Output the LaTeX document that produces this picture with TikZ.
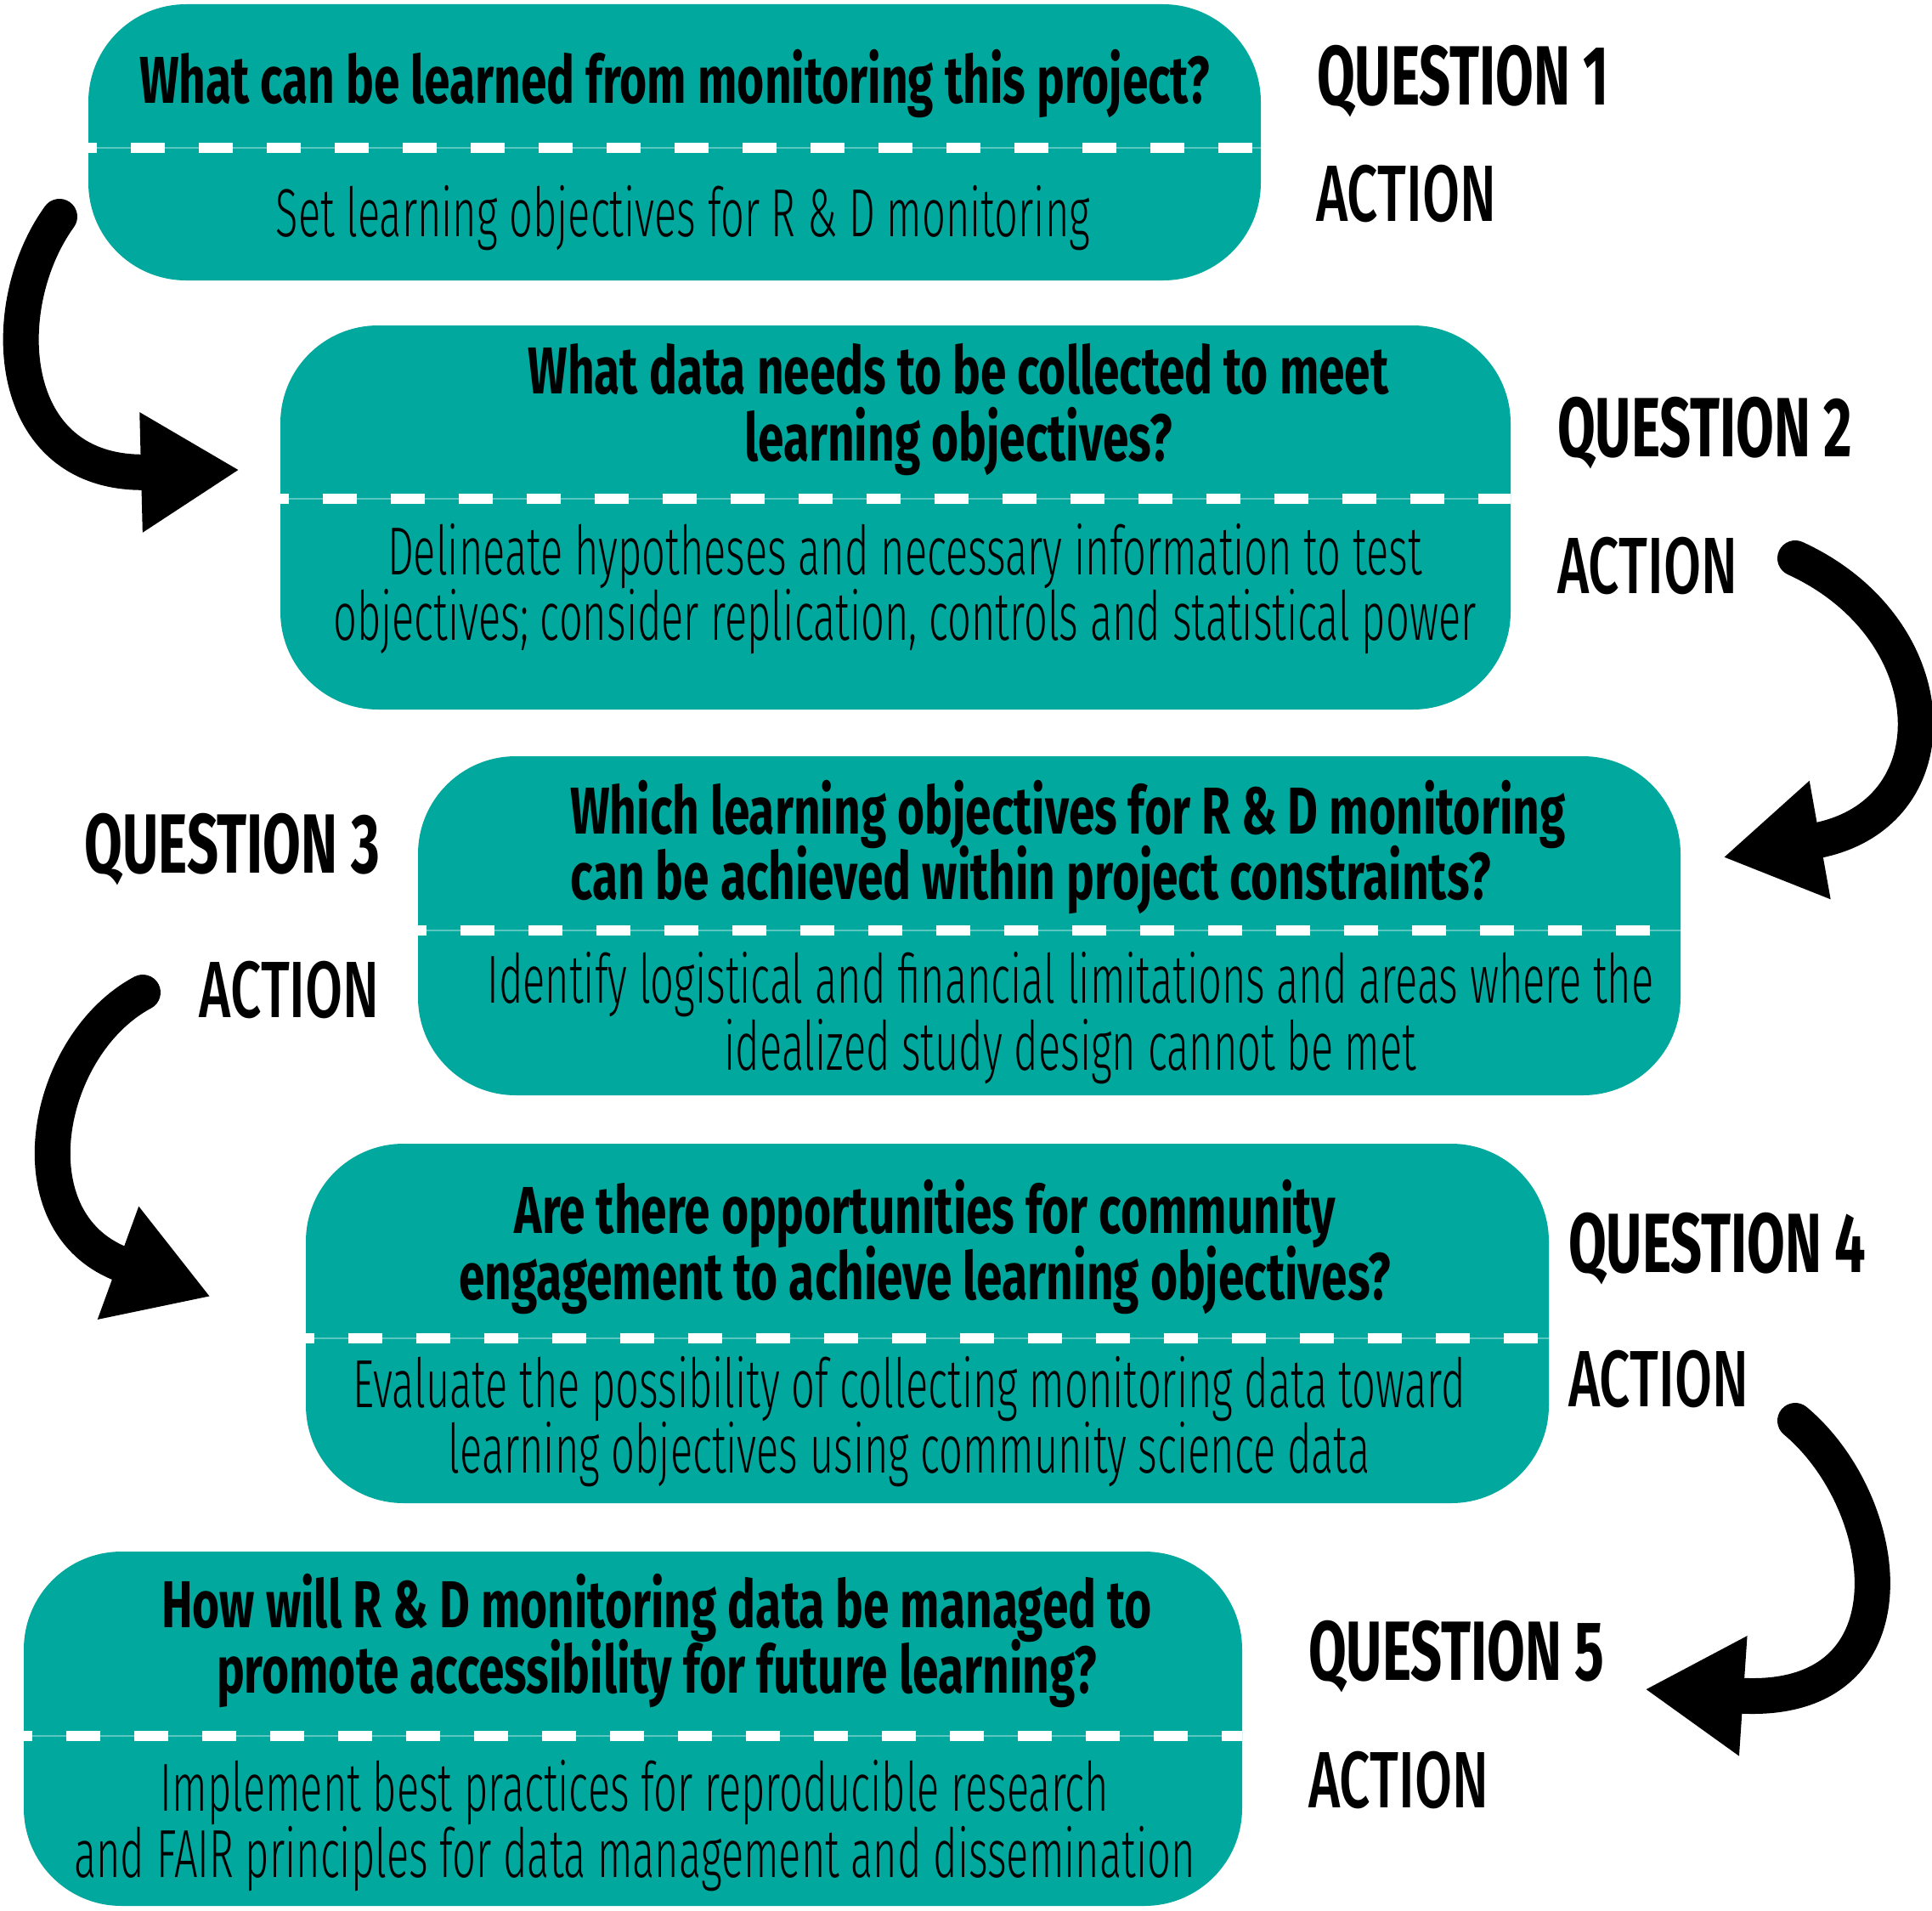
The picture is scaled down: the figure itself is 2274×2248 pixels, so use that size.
\documentclass[tikz,border=0pt]{standalone}
\usepackage{fontspec}
\usetikzlibrary{arrows.meta}
% condensed faces for the boxes and the side labels
\newfontfamily\qfont{Fira Sans}[FakeStretch=0.705]
\newfontfamily\afont{Fira Sans Light}[FakeStretch=0.61]
\newfontfamily\lqfont{Fira Sans}[FakeStretch=0.655]
\newfontfamily\lafont{Fira Sans Medium}[FakeStretch=0.68]
\definecolor{tealbox}{RGB}{0,168,157}
\begin{document}
\begin{tikzpicture}[x=1pt,y=-1pt,
  box/.style={fill=tealbox, draw=none, rounded corners=115pt, inner sep=0pt},
  qline/.style={anchor=base, inner sep=0pt, font=\qfont\bfseries\fontsize{78}{80}\selectfont},
  aline/.style={anchor=base, inner sep=0pt, font=\afont\fontsize{80}{82}\selectfont},
  qlabel/.style={anchor=base west, inner sep=0pt, font=\lqfont\bfseries\fontsize{99}{100}\selectfont},
  alabel/.style={anchor=base west, inner sep=0pt, font=\lafont\fontsize{94}{96}\selectfont},
  dashline/.style={draw=white, line width=12pt, dash pattern=on 40pt off 40pt, dash phase=30pt},
  hairline/.style={draw=white, draw opacity=0.35, line width=1.5pt},
  bigarrow/.style={line width=42pt, line cap=round, -{Triangle[length=116pt,width=133pt]}}
]
\useasboundingbox (0,0) rectangle (2274,2248);
\fill[white] (0,0) rectangle (2274,2248);

% boxes
\node[box, minimum width=1380pt, minimum height=325pt] (b1) at (794,167.5) {};
\node[box, minimum width=1448pt, minimum height=452pt] (b2) at (1054,609) {};
\node[box, minimum width=1486pt, minimum height=399pt] (b3) at (1235,1089.5) {};
\node[box, minimum width=1463pt, minimum height=423pt] (b4) at (1091.5,1557.5) {};
\node[box, minimum width=1434pt, minimum height=417pt] (b5) at (745,2034.5) {};

% dashed separators
\coordinate (d1) at (0,174);
\coordinate (d2) at (0,587);
\coordinate (d3) at (0,1095);
\coordinate (d4) at (0,1575);
\coordinate (d5) at (0,2043);
\foreach \b/\d in {b1/d1,b2/d2,b3/d3,b4/d4,b5/d5}{
  \draw[hairline] (\b.west |- \d) -- (\b.east |- \d);
  \draw[dashline] (\b.west |- \d) -- (\b.east |- \d);
}

% box 1
\node[qline] (q1a) at (794,121) {What can be learned from monitoring this project?};
\node[aline] (a1a) at (804,278) {Set learning objectives for R \& D monitoring};
% box 2
\node[qline] (q2a) at (1128,463) {What data needs to be collected to meet};
\node[qline] (q2b) at (1128,542) {learning objectives?};
\node[aline] (a2a) at (1065,676) {Delineate hypotheses and necessary information to test};
\node[aline] (a2b) at (1065,753) {objectives; consider replication, controls and statistical power};
% box 3
\node[qline, anchor=base west] (q3a) at (671,981) {Which learning objectives for R \& D monitoring};
\node[qline, anchor=base west] (q3b) at (671,1058) {can be achieved within project constraints?};
\node[aline] (a3a) at (1260,1180) {Identify logistical and financial limitations and areas where the};
\node[aline] (a3b) at (1260,1259) {idealized study design cannot be met};
% box 4
\node[qline] (q4a) at (1089,1451) {Are there opportunities for community};
\node[qline] (q4b) at (1089,1529) {engagement to achieve learning objectives?};
\node[aline] (a4a) at (1070,1656) {Evaluate the possibility of collecting monitoring data toward};
\node[aline] (a4b) at (1070,1733) {learning objectives using community science data};
% box 5
\node[qline] (q5a) at (773,1915) {How will R \& D monitoring data be managed to};
\node[qline] (q5b) at (773,1992) {promote accessibility for future learning?};
\node[aline] (a5a) at (747,2131) {Implement best practices for reproducible research};
\node[aline] (a5b) at (747,2209) {and FAIR principles for data management and dissemination};

% side labels
\node[qlabel] (l1q) at (1550,123) {QUESTION 1};
\node[alabel] (l1a) at (1549,260) {ACTION};
\node[qlabel] (l2q) at (1833,537) {QUESTION 2};
\node[alabel] (l2a) at (1833,698) {ACTION};
\node[qlabel, anchor=base east] (l3q) at (447,1027) {QUESTION 3};
\node[alabel, anchor=base east] (l3a) at (447,1197) {ACTION};
\node[qlabel] (l4q) at (1846,1497) {QUESTION 4};
\node[alabel] (l4a) at (1846,1655) {ACTION};
\node[qlabel] (l5q) at (1540,1977) {QUESTION 5};
\node[alabel] (l5a) at (1540,2127) {ACTION};

% curved arrows between the steps
\coordinate (s1) at (70,255);    \coordinate (t1) at (282,553);
\coordinate (s2) at (2113,657);  \coordinate (t2) at (2028,1009);
\coordinate (s3) at (168,1168);  \coordinate (t3) at (248,1526);
\coordinate (s4) at (2113,1672); \coordinate (t4) at (1936,1988);
\draw[bigarrow] (s1) .. controls (-6,360) and (4,560) .. (t1);
\draw[bigarrow] (s2) .. controls (2294,740) and (2302,960) .. (t2);
\draw[bigarrow] (s3) .. controls (52,1230) and (12,1440) .. (t3);
\draw[bigarrow] (s4) .. controls (2230,1770) and (2260,2010) .. (t4);
\end{tikzpicture}
\end{document}
